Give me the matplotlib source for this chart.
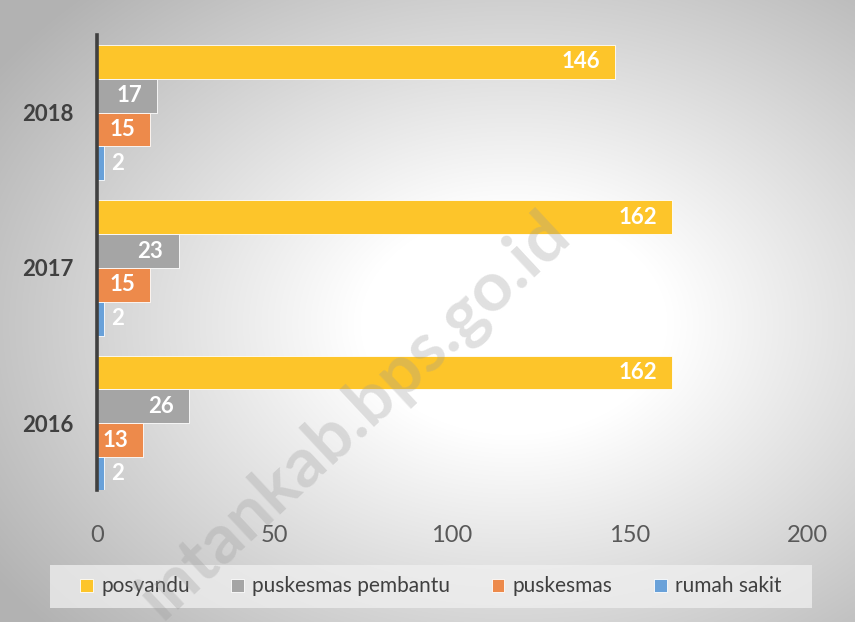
import numpy as np
import matplotlib
matplotlib.use("Agg")
import matplotlib.pyplot as plt
from matplotlib.patches import Patch

# ---------------------------------------------------------------- DATA -------
YEARS = ["2016", "2017", "2018"]
SERIES = ["posyandu", "puskesmas pembantu", "puskesmas", "rumah sakit"]
POSYANDU = [162, 162, 146]
PUSKESMAS_PEMBANTU = [26, 23, 17]
PUSKESMAS = [13, 15, 15]
RUMAH_SAKIT = [2, 2, 2]
X_TICKS = [0, 50, 100, 150, 200]

COLORS = ["#FDC52A", "#A5A5A5", "#ED8A4B", "#69A1D9"]
TEXT_DARK = "#404040"

plt.rcParams["font.family"] = ["Lato", "DejaVu Sans"]

W, H, DPI = 855, 622, 100
fig = plt.figure(figsize=(W / DPI, H / DPI), dpi=DPI)

# radial grey->white background, like the Excel chart style
bg = fig.add_axes([0, 0, 1, 1], zorder=-10)
yy, xx = np.mgrid[0:H, 0:W]
cx, cy = 0.60 * W, 0.52 * H
r = np.sqrt(((xx - cx) / W) ** 2 + ((yy - cy) / H) ** 2)
shade = np.clip(1.0 - 0.30 * np.clip((r - 0.18) / 0.55, 0, 1), 0, 1)
bg.imshow(np.dstack([shade] * 3), aspect="auto", extent=[0, 1, 0, 1])
bg.axis("off")

ax = fig.add_axes([97 / W, 1 - 490 / H, 710 / W, 455 / H])
ax.patch.set_alpha(0)

values = [POSYANDU, PUSKESMAS_PEMBANTU, PUSKESMAS, RUMAH_SAKIT]
y = np.arange(len(YEARS))
h = 0.2177
offsets = [1.5 * h, 0.5 * h, -0.5 * h, -1.5 * h]

for vals, off, col in zip(values, offsets, COLORS):
    bars = ax.barh(y + off, vals, height=h, color=col,
                   edgecolor="#ffffff", linewidth=0.6)
    for b, v in zip(bars, vals):
        yc = b.get_y() + b.get_height() / 2
        if v >= 10:
            ax.annotate(str(v), (v, yc), xytext=(-11, 0), textcoords="offset points",
                        ha="right", va="center", color="white",
                        fontsize=16, fontweight="bold")
        else:
            ax.annotate(str(v), (v, yc), xytext=(5, 0), textcoords="offset points",
                        ha="left", va="center", color="white",
                        fontsize=16, fontweight="bold")

ax.set_xlim(0, 200)
ax.set_ylim(-0.43, 2.5)
ax.set_xticks(X_TICKS)
ax.set_xticklabels([str(t) for t in X_TICKS], fontsize=17, color="#595959")
ax.set_yticks(y)
ax.set_yticklabels(YEARS, fontsize=16, fontweight="bold", color=TEXT_DARK)
ax.tick_params(axis="both", length=0)
ax.tick_params(axis="x", pad=25)
ax.tick_params(axis="y", pad=17)
for s in ["top", "right", "bottom"]:
    ax.spines[s].set_visible(False)
ax.spines["left"].set_color(TEXT_DARK)
ax.spines["left"].set_linewidth(2.6)

# legend in a light box along the bottom
handles = [Patch(facecolor=c, edgecolor="white", linewidth=0.6) for c in COLORS]
leg = fig.legend(handles, SERIES, loc="center", ncol=4,
                 bbox_to_anchor=(50 / W, 1 - 608 / H, 762 / W, 43 / H),
                 fontsize=15, frameon=False,
                 handlelength=0.6, handleheight=0.6, handletextpad=0.4,
                 columnspacing=2.0, borderaxespad=0)
for t in leg.get_texts():
    t.set_color(TEXT_DARK)
box = plt.Rectangle((50 / W, 1 - 608 / H), 762 / W, 43 / H, transform=fig.transFigure,
                    facecolor="#f0f0f0", alpha=0.75, edgecolor="none", zorder=-5)
fig.patches.append(box)

# watermark
fig.text(0.415, 0.33, "intankab.bps.go.id", rotation=43, ha="center", va="center",
         fontsize=50, fontweight="bold", color="#9a9a9a", alpha=0.3, zorder=20)

fig.savefig("out.png", dpi=DPI)
